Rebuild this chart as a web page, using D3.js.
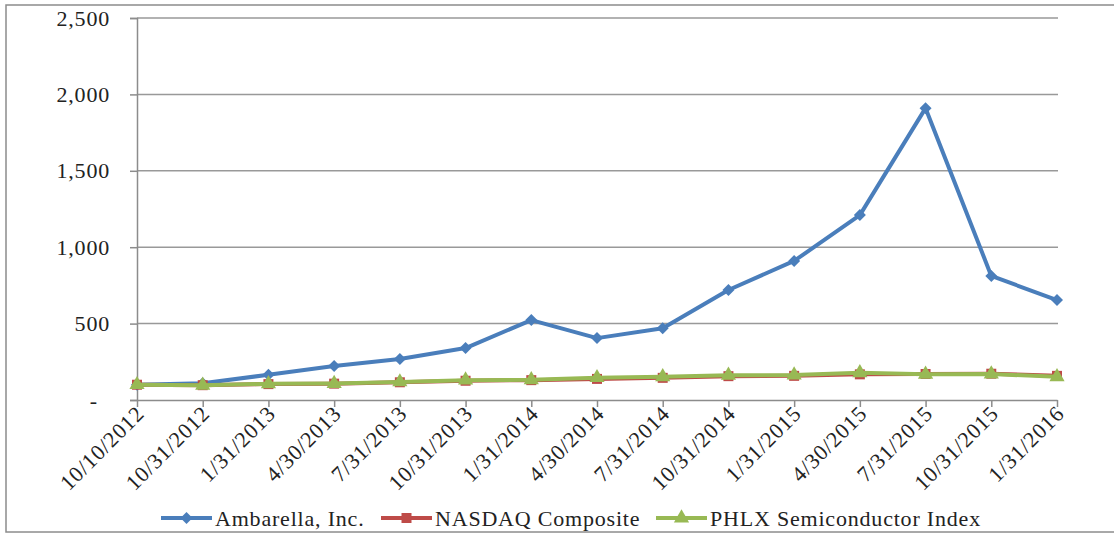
<!DOCTYPE html>
<html><head><meta charset="utf-8">
<script src="https://cdn.jsdelivr.net/npm/d3@7"></script>
<style>body{margin:0;background:#fff}svg{display:block}</style>
</head><body>
<svg id="c" width="1114" height="535"></svg>
<script>
const categories = ["10/10/2012","10/31/2012","1/31/2013","4/30/2013","7/31/2013","10/31/2013","1/31/2014","4/30/2014","7/31/2014","10/31/2014","1/31/2015","4/30/2015","7/31/2015","10/31/2015","1/31/2016"];
const ambarella = [100, 110, 165, 222, 268, 340, 523, 405, 470, 720, 910, 1210, 1910, 812, 654];
const nasdaq    = [100, 97, 104, 107, 116, 126, 130, 138, 145, 156, 158, 168, 170, 172, 158];
const phlx      = [100, 96, 106, 108, 118, 130, 132, 146, 152, 162, 163, 178, 168, 170, 152];
const yTicks = [0, 500, 1000, 1500, 2000, 2500];
const seriesNames = ["Ambarella, Inc.", "NASDAQ Composite", "PHLX Semiconductor Index"];

const colors = ["#4A7EBB", "#BE4B48", "#98B954"];
const svg = d3.select("#c");
const font = "'Liberation Serif','Times New Roman',serif";

svg.append("rect").attr("x",6).attr("y",5).attr("width",1130).attr("height",527)
  .attr("fill","#fff").attr("stroke","#8c8c8c").attr("stroke-width",1.5);

const x = d3.scalePoint().domain(categories).range([137, 1057]);
const y = d3.scaleLinear().domain([0, 2500]).range([400, 18]);

// gridlines
svg.append("g").selectAll("line").data(yTicks.filter(d=>d>0)).join("line")
  .attr("x1",137).attr("x2",1058).attr("y1",d=>y(d)).attr("y2",d=>y(d))
  .attr("stroke","#999").attr("stroke-width",1.5);

// y axis
const yAxis = d3.axisLeft(y).tickValues(yTicks).tickSize(7).tickPadding(20)
  .tickFormat(d => d===0 ? "-" : d3.format(",")(d));
const gy = svg.append("g").attr("transform","translate(137,0)").call(yAxis);
gy.select(".domain").attr("stroke","#8c8c8c").attr("stroke-width",1.5);
gy.selectAll(".tick line").attr("stroke","#8c8c8c").attr("stroke-width",1.5);
gy.selectAll("text").attr("font-family",font).attr("font-size",22).attr("fill","#222")
  .attr("letter-spacing",0.8);
gy.selectAll(".tick").filter(d=>d===0).select("text").attr("dx",-12);

// x axis
const xAxis = d3.axisBottom(x).tickSize(7).tickSizeOuter(0).tickPadding(4);
const gx = svg.append("g").attr("transform","translate(0,400)").call(xAxis);
gx.select(".domain").attr("stroke","#8c8c8c").attr("stroke-width",1.5);
gx.selectAll(".tick line").attr("stroke","#8c8c8c").attr("stroke-width",1.5);
gx.selectAll("text").attr("font-family",font).attr("font-size",22).attr("fill","#222")
  .attr("letter-spacing",0.8)
  .attr("text-anchor","end").attr("dy",0).attr("y",0)
  .attr("transform","translate(8,15) rotate(-45)");

// series
const data = [ambarella, nasdaq, phlx];
const line = d3.line().x((d,i)=>x(categories[i])).y(d=>y(d));
const markers = [d3.symbolSquare, d3.symbolSquare, d3.symbolTriangle];
const msize = [72, 100, 100];
const rot = ["rotate(45)", "", ""];
data.forEach((vals, k) => {
  svg.append("path").datum(vals).attr("d", line).attr("fill","none")
    .attr("stroke", colors[k]).attr("stroke-width", 4).attr("stroke-linejoin","round");
  svg.append("g").selectAll("path").data(vals).join("path")
    .attr("transform",(d,i)=>`translate(${x(categories[i])},${y(d)}) ${rot[k]}`)
    .attr("d", d3.symbol().type(markers[k]).size(msize[k])())
    .attr("fill", colors[k]);
});

// legend
const legendPos = [161, 381, 656];
const lg = svg.append("g");
seriesNames.forEach((name, k) => {
  const lx = legendPos[k];
  lg.append("line").attr("x1",lx).attr("x2",lx+51).attr("y1",518).attr("y2",518)
    .attr("stroke",colors[k]).attr("stroke-width",4);
  lg.append("path").attr("transform",`translate(${lx+25.5},518) ${rot[k]}`)
    .attr("d", d3.symbol().type(markers[k]).size(msize[k])()).attr("fill",colors[k]);
  lg.append("text").attr("x",lx+54).attr("y",526).text(name)
    .attr("font-family",font).attr("font-size",22).attr("fill","#222").attr("letter-spacing",0.8);
});
</script>
</body></html>
